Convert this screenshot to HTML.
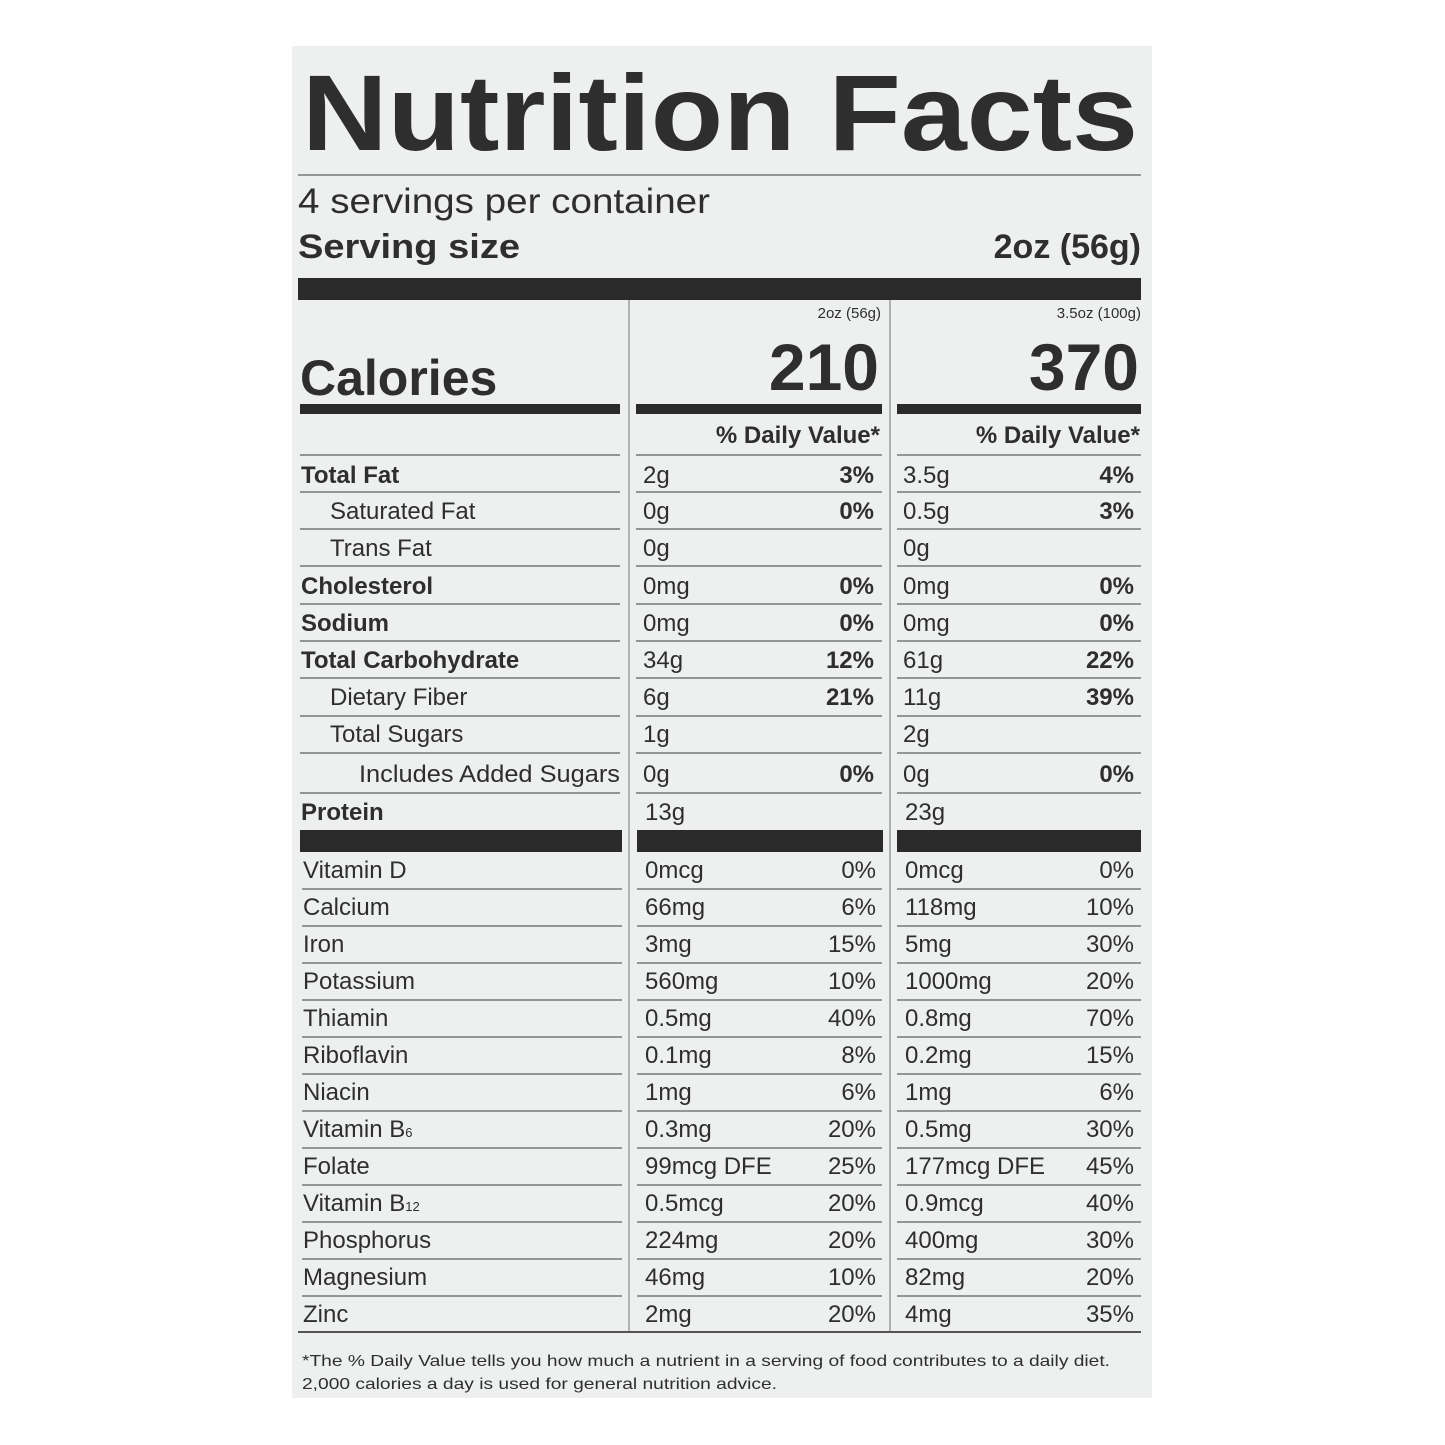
<!DOCTYPE html>
<html><head><meta charset="utf-8"><style>
html,body{margin:0;padding:0;background:#fff}
svg{display:block}
text{font-family:"Liberation Sans",Arial,sans-serif;fill:#2e2e2e}
.b{font-weight:bold}
</style></head><body>
<svg width="1445" height="1445" viewBox="0 0 1445 1445" xmlns="http://www.w3.org/2000/svg">
<rect x="292" y="46" width="860" height="1352" fill="#eef0f0"/>
<text x="302" y="150" class="b" font-size="108" textLength="836" lengthAdjust="spacingAndGlyphs">Nutrition Facts</text>
<line x1="298" y1="175" x2="1141" y2="175" stroke="#777" stroke-width="1.5"/>
<text x="298" y="213" font-size="35" textLength="412" lengthAdjust="spacingAndGlyphs">4 servings per container</text>
<text x="298" y="258" class="b" font-size="34" textLength="222" lengthAdjust="spacingAndGlyphs">Serving size</text>
<text x="1141" y="258" class="b" font-size="34" text-anchor="end">2oz (56g)</text>
<rect x="298" y="278" width="843" height="22" fill="#2a2a2a"/>
<line x1="629" y1="300" x2="629" y2="1332" stroke="#888" stroke-width="1.2"/>
<line x1="890" y1="300" x2="890" y2="1332" stroke="#888" stroke-width="1.2"/>
<text x="881" y="318" font-size="15" text-anchor="end">2oz (56g)</text>
<text x="1141" y="318" font-size="15" text-anchor="end">3.5oz (100g)</text>
<text x="300" y="395" class="b" font-size="50">Calories</text>
<text x="879" y="390" class="b" font-size="66" text-anchor="end">210</text>
<text x="1139" y="390" class="b" font-size="66" text-anchor="end">370</text>
<rect x="300" y="404" width="320" height="10" fill="#2a2a2a"/>
<rect x="636" y="404" width="246" height="10" fill="#2a2a2a"/>
<rect x="897" y="404" width="244" height="10" fill="#2a2a2a"/>
<text x="880" y="443" class="b" font-size="24" text-anchor="end">% Daily Value*</text>
<text x="1140" y="443" class="b" font-size="24" text-anchor="end">% Daily Value*</text>
<g stroke="#777" stroke-width="1.5">
<path d="M300 455H620M636 455H882M897 455H1141
M300 492H620M636 492H882M897 492H1141
M300 529H620M636 529H882M897 529H1141
M300 566H620M636 566H882M897 566H1141
M300 604H620M636 604H882M897 604H1141
M300 641H620M636 641H882M897 641H1141
M300 678H620M636 678H882M897 678H1141
M300 716H620M636 716H882M897 716H1141
M300 753H620M636 753H882M897 753H1141
M300 793H620M636 793H882M897 793H1141"/>
</g>
<rect x="300" y="830" width="322" height="22" fill="#2a2a2a"/>
<rect x="637" y="830" width="246" height="22" fill="#2a2a2a"/>
<rect x="897" y="830" width="244" height="22" fill="#2a2a2a"/>
<g font-size="24">
<text x="301" y="483" class="b">Total Fat</text><text x="643" y="483">2g</text><text x="874" y="483" class="b" text-anchor="end">3%</text><text x="903" y="483">3.5g</text><text x="1134" y="483" class="b" text-anchor="end">4%</text>
<text x="330" y="519">Saturated Fat</text><text x="643" y="519">0g</text><text x="874" y="519" class="b" text-anchor="end">0%</text><text x="903" y="519">0.5g</text><text x="1134" y="519" class="b" text-anchor="end">3%</text>
<text x="330" y="556">Trans Fat</text><text x="643" y="556">0g</text><text x="903" y="556">0g</text>
<text x="301" y="594" class="b">Cholesterol</text><text x="643" y="594">0mg</text><text x="874" y="594" class="b" text-anchor="end">0%</text><text x="903" y="594">0mg</text><text x="1134" y="594" class="b" text-anchor="end">0%</text>
<text x="301" y="631" class="b">Sodium</text><text x="643" y="631">0mg</text><text x="874" y="631" class="b" text-anchor="end">0%</text><text x="903" y="631">0mg</text><text x="1134" y="631" class="b" text-anchor="end">0%</text>
<text x="301" y="668" class="b">Total Carbohydrate</text><text x="643" y="668">34g</text><text x="874" y="668" class="b" text-anchor="end">12%</text><text x="903" y="668">61g</text><text x="1134" y="668" class="b" text-anchor="end">22%</text>
<text x="330" y="705">Dietary Fiber</text><text x="643" y="705">6g</text><text x="874" y="705" class="b" text-anchor="end">21%</text><text x="903" y="705">11g</text><text x="1134" y="705" class="b" text-anchor="end">39%</text>
<text x="330" y="742">Total Sugars</text><text x="643" y="742">1g</text><text x="903" y="742">2g</text>
<text x="359" y="782" textLength="261" lengthAdjust="spacingAndGlyphs">Includes Added Sugars</text><text x="643" y="782">0g</text><text x="874" y="782" class="b" text-anchor="end">0%</text><text x="903" y="782">0g</text><text x="1134" y="782" class="b" text-anchor="end">0%</text>
<text x="301" y="820" class="b">Protein</text><text x="645" y="820">13g</text><text x="905" y="820">23g</text>
</g>
<g stroke="#777" stroke-width="1.5">
<path d="M302 889H622M637 889H882M897 889H1141
M302 926H622M637 926H882M897 926H1141
M302 963H622M637 963H882M897 963H1141
M302 1000H622M637 1000H882M897 1000H1141
M302 1037H622M637 1037H882M897 1037H1141
M302 1074H622M637 1074H882M897 1074H1141
M302 1111H622M637 1111H882M897 1111H1141
M302 1148H622M637 1148H882M897 1148H1141
M302 1185H622M637 1185H882M897 1185H1141
M302 1222H622M637 1222H882M897 1222H1141
M302 1259H622M637 1259H882M897 1259H1141
M302 1296H622M637 1296H882M897 1296H1141"/>
</g>
<line x1="298" y1="1332" x2="1141" y2="1332" stroke="#555" stroke-width="2"/>
<g font-size="24">
<text x="303" y="878">Vitamin D</text><text x="645" y="878">0mcg</text><text x="876" y="878" text-anchor="end">0%</text><text x="905" y="878">0mcg</text><text x="1134" y="878" text-anchor="end">0%</text>
<text x="303" y="915">Calcium</text><text x="645" y="915">66mg</text><text x="876" y="915" text-anchor="end">6%</text><text x="905" y="915">118mg</text><text x="1134" y="915" text-anchor="end">10%</text>
<text x="303" y="952">Iron</text><text x="645" y="952">3mg</text><text x="876" y="952" text-anchor="end">15%</text><text x="905" y="952">5mg</text><text x="1134" y="952" text-anchor="end">30%</text>
<text x="303" y="989">Potassium</text><text x="645" y="989">560mg</text><text x="876" y="989" text-anchor="end">10%</text><text x="905" y="989">1000mg</text><text x="1134" y="989" text-anchor="end">20%</text>
<text x="303" y="1026">Thiamin</text><text x="645" y="1026">0.5mg</text><text x="876" y="1026" text-anchor="end">40%</text><text x="905" y="1026">0.8mg</text><text x="1134" y="1026" text-anchor="end">70%</text>
<text x="303" y="1063">Riboflavin</text><text x="645" y="1063">0.1mg</text><text x="876" y="1063" text-anchor="end">8%</text><text x="905" y="1063">0.2mg</text><text x="1134" y="1063" text-anchor="end">15%</text>
<text x="303" y="1100">Niacin</text><text x="645" y="1100">1mg</text><text x="876" y="1100" text-anchor="end">6%</text><text x="905" y="1100">1mg</text><text x="1134" y="1100" text-anchor="end">6%</text>
<text x="303" y="1137">Vitamin B<tspan font-size="13">6</tspan></text><text x="645" y="1137">0.3mg</text><text x="876" y="1137" text-anchor="end">20%</text><text x="905" y="1137">0.5mg</text><text x="1134" y="1137" text-anchor="end">30%</text>
<text x="303" y="1174">Folate</text><text x="645" y="1174">99mcg DFE</text><text x="876" y="1174" text-anchor="end">25%</text><text x="905" y="1174">177mcg DFE</text><text x="1134" y="1174" text-anchor="end">45%</text>
<text x="303" y="1211">Vitamin B<tspan font-size="13">12</tspan></text><text x="645" y="1211">0.5mcg</text><text x="876" y="1211" text-anchor="end">20%</text><text x="905" y="1211">0.9mcg</text><text x="1134" y="1211" text-anchor="end">40%</text>
<text x="303" y="1248">Phosphorus</text><text x="645" y="1248">224mg</text><text x="876" y="1248" text-anchor="end">20%</text><text x="905" y="1248">400mg</text><text x="1134" y="1248" text-anchor="end">30%</text>
<text x="303" y="1285">Magnesium</text><text x="645" y="1285">46mg</text><text x="876" y="1285" text-anchor="end">10%</text><text x="905" y="1285">82mg</text><text x="1134" y="1285" text-anchor="end">20%</text>
<text x="303" y="1322">Zinc</text><text x="645" y="1322">2mg</text><text x="876" y="1322" text-anchor="end">20%</text><text x="905" y="1322">4mg</text><text x="1134" y="1322" text-anchor="end">35%</text>
</g>
<text x="302" y="1366" font-size="16" textLength="808" lengthAdjust="spacingAndGlyphs">*The % Daily Value tells you how much a nutrient in a serving of food contributes to a daily diet.</text>
<text x="302" y="1389" font-size="16" textLength="475" lengthAdjust="spacingAndGlyphs">2,000 calories a day is used for general nutrition advice.</text>
</svg>
</body></html>
